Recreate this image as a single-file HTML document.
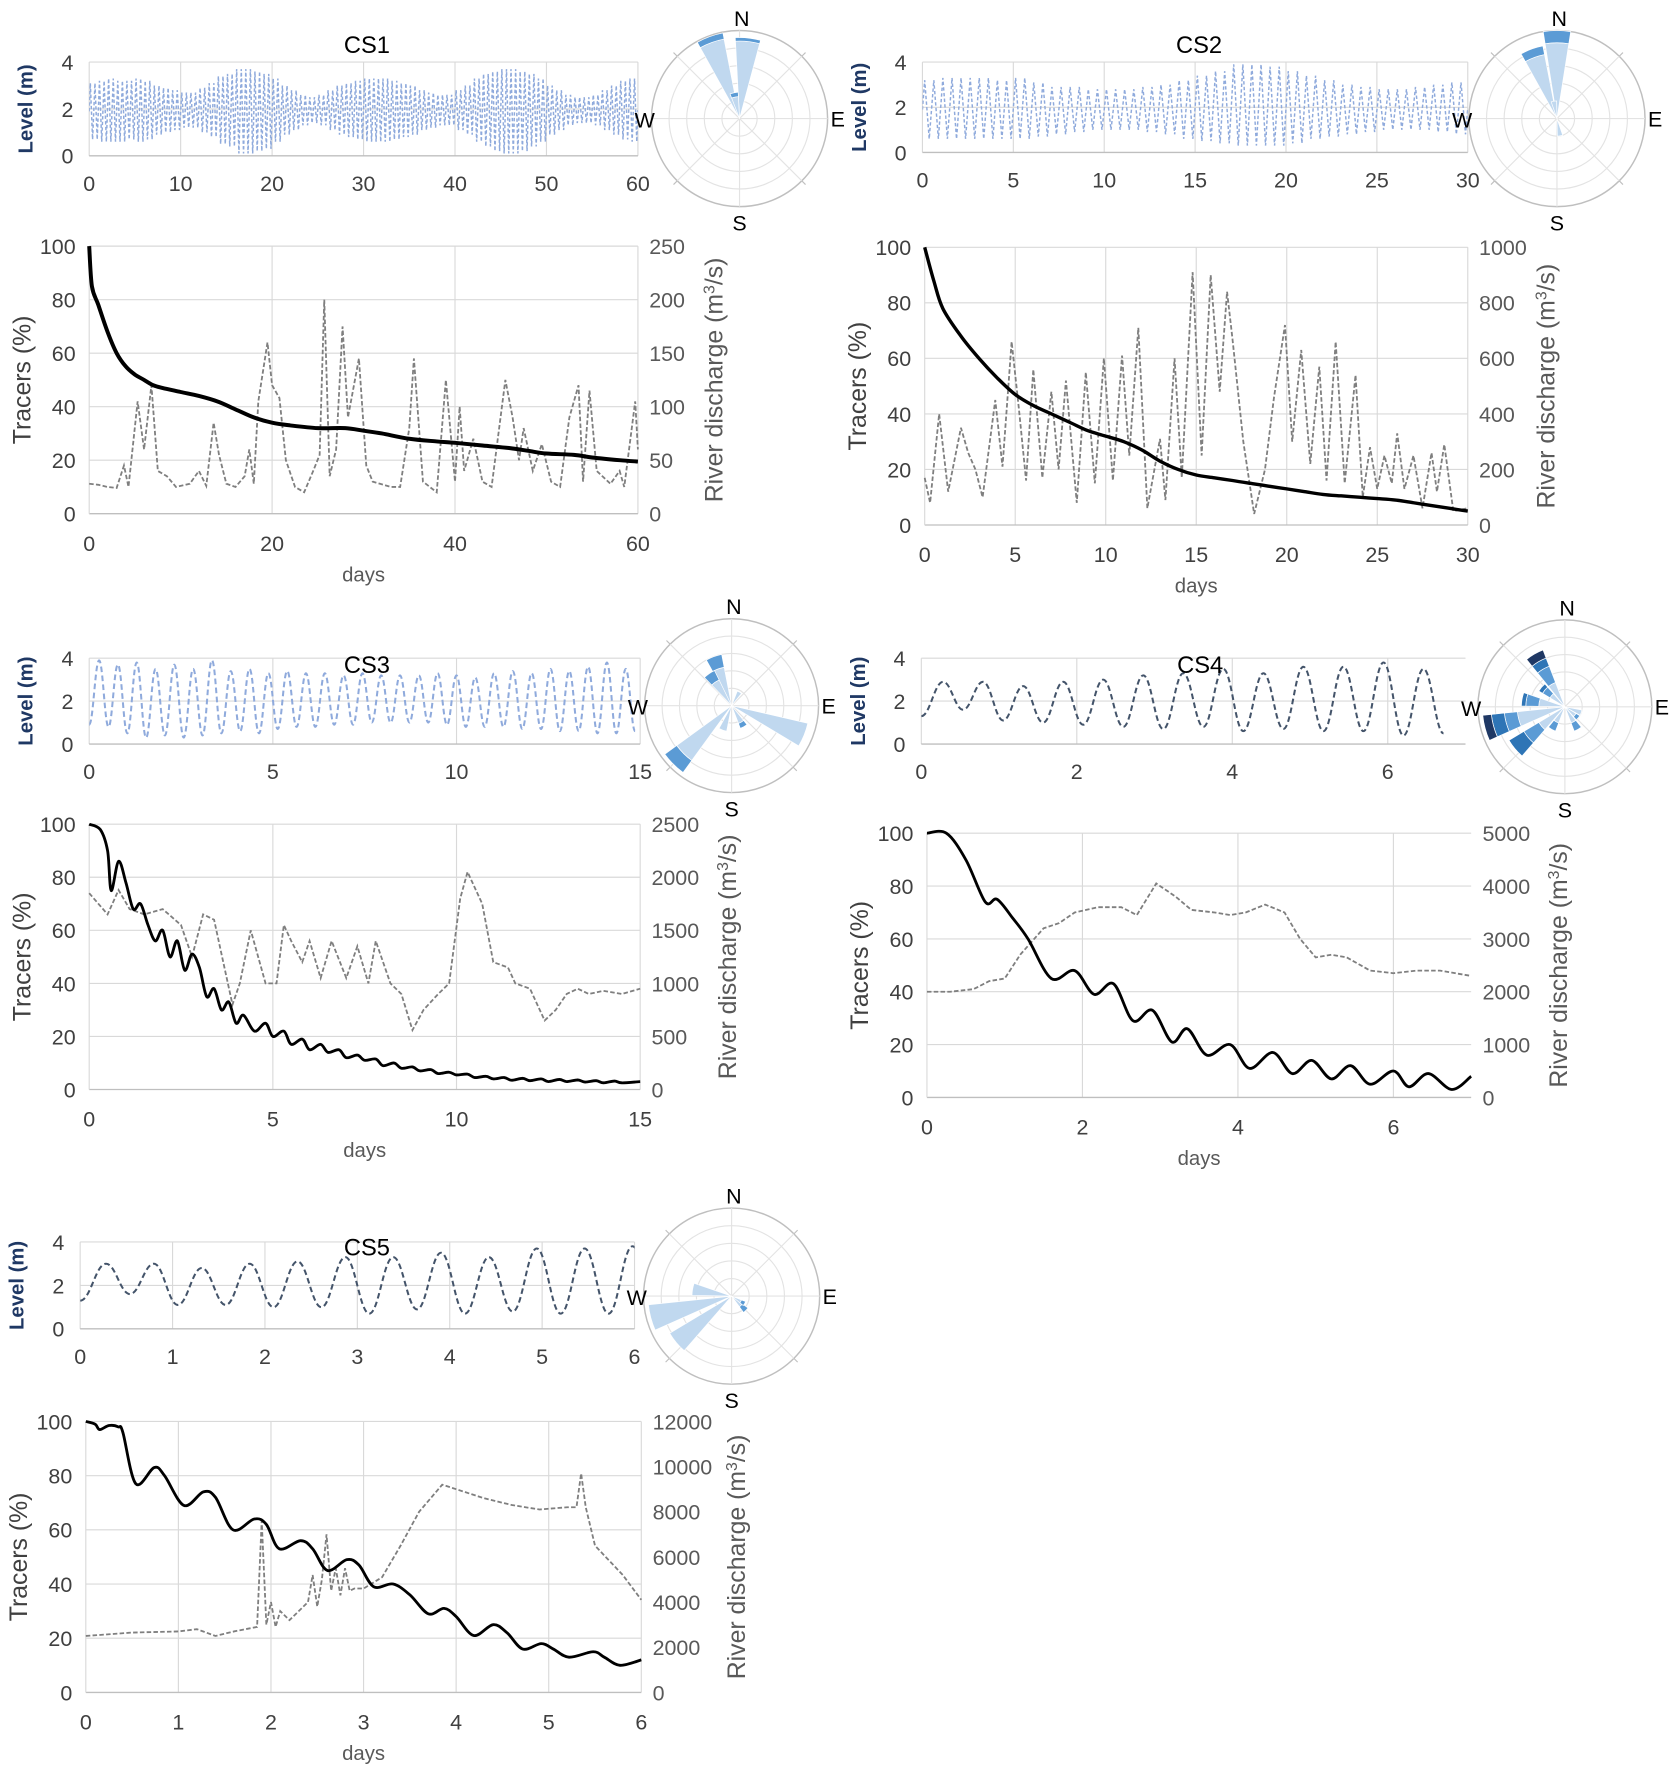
<!DOCTYPE html>
<html><head><meta charset="utf-8"><style>
html,body{margin:0;padding:0;background:#fff}
svg{display:block}
text{font-family:"Liberation Sans",Arial,sans-serif}
</style></head><body>
<svg id="fig" width="1671" height="1772" viewBox="0 0 1480 1569.5" preserveAspectRatio="none" xmlns="http://www.w3.org/2000/svg"></svg>
<script>
// ---------- DATA ----------
const cs1LevelHigh=[3.1,3.2,3.3,3.2,3.2,3.3,3.2,3.0,2.9,2.8,2.7,2.7,2.9,3.1,3.4,3.5,3.7,3.7,3.6,3.5,3.3,3.0,2.8,2.6,2.5,2.6,2.8,3.0,3.1,3.2,3.3,3.3,3.3,3.2,3.1,3.0,2.8,2.7,2.6,2.6,2.8,3.0,3.3,3.5,3.6,3.7,3.7,3.6,3.5,3.3,3.0,2.8,2.6,2.5,2.5,2.6,2.8,3.0,3.2,3.3];
const cs1LevelLow=[0.7,0.6,0.6,0.6,0.7,0.6,0.7,0.9,1.0,1.1,1.2,1.2,1.0,0.8,0.5,0.4,0.1,0.1,0.2,0.3,0.6,0.9,1.1,1.3,1.4,1.3,1.1,0.9,0.8,0.7,0.6,0.6,0.6,0.7,0.8,0.9,1.1,1.2,1.3,1.3,1.1,0.9,0.6,0.4,0.2,0.1,0.1,0.2,0.4,0.6,0.9,1.1,1.3,1.4,1.4,1.3,1.1,0.9,0.7,0.6];
const cs2LevelHigh=[3.2,3.3,3.3,3.3,3.2,3.3,3.1,2.9,2.9,2.8,2.8,2.8,2.9,3.0,3.2,3.4,3.6,3.9,3.9,3.8,3.6,3.4,3.2,3.0,2.9,2.8,2.8,2.9,3.0,3.1];
const cs2LevelLow=[0.6,0.6,0.6,0.6,0.6,0.6,0.7,0.8,0.9,1.0,1.0,1.0,0.9,0.8,0.6,0.5,0.4,0.3,0.3,0.3,0.4,0.6,0.7,0.8,0.9,1.0,1.0,1.0,0.9,0.8];
const cs3Peaks=[3.9,3.7,3.8,3.5,3.7,3.5,3.9,3.4,3.5,3.3,3.4,3.3,3.3,3.2,3.3,3.2,3.2,3.2,3.3,3.2,3.1,3.3,3.4,3.3,3.5,3.4,3.6,3.8,3.5];
const cs3Troughs=[0.8,0.5,0.3,0.4,0.3,0.4,0.5,0.6,0.5,0.7,0.8,0.8,0.9,0.9,1.0,1.0,1.0,1.0,0.9,0.8,0.8,0.8,0.7,0.7,0.6,0.6,0.5,0.5,0.6];
const cs4Peaks=[2.9,2.9,2.7,2.9,3.0,3.2,3.3,3.5,3.3,3.6,3.6,3.8,3.5];
const cs4Troughs=[1.6,1.1,1.0,0.9,0.8,0.7,0.8,0.6,0.7,0.6,0.6,0.4,0.5];
const cs5Peaks=[3.0,3.0,2.8,3.0,3.1,3.3,3.3,3.5,3.3,3.7,3.7,3.8];
const cs5Troughs=[1.6,1.1,1.1,1.0,1.0,0.7,0.9,0.7,0.8,0.7,0.7,0.9];
const cs1TracerT=[0,0.3,1,2,3,4,5,6,7,8,10,12,14,16,18,20,22,25,28,30,32,35,38,40,43,46,48,50,53,55,58,60];
const cs1TracerV=[100,85,78,68,60,55,52,50,48,47,45.5,44,42,39,36,34,33,32,32,31,30,28,27,26.5,25.5,24.5,23.5,22.5,22,21,20,19.5];
const cs1FlowT=[0,1,2,3,3.8,4.3,5.3,6,6.8,7.5,8.5,9.5,11,12,12.8,13.6,14.2,15,16,17,17.5,18,18.5,19.5,20,20.8,21.5,22.5,23.5,24.5,25.2,25.7,26.3,27,27.7,28.3,29.5,30.3,31,33,34,35,35.5,36.5,38,39,40,40.5,41,42,43,44,45.5,46.3,47,47.5,48.5,49.5,50.5,51.5,52.5,53.5,54,54.7,55.5,57,58,58.5,59.7,60];
const cs1FlowV=[28,27,25,24,45,25,105,60,120,40,35,25,28,40,26,85,55,28,25,35,60,28,105,160,120,108,50,25,20,40,55,200,35,60,175,90,145,45,30,25,25,80,145,30,20,125,30,100,40,70,30,25,125,90,50,80,40,65,30,25,90,120,30,115,40,28,40,25,105,60];
const cs2TracerT=[0,0.5,1,2,3,4,5,6,7,8,9,10,11,12,13,14,15,16,17,18,19,20,21,22,23,24,25,26,27,28,29,30];
const cs2TracerV=[100,88,78,68,60,53,47,43,40,37,34,32,30,27,23,20,18,17,16,15,14,13,12,11,10.5,10,9.5,9,8,7,6,5];
const cs2FlowT=[0,0.3,0.8,1.3,2,2.4,2.8,3.2,3.9,4.3,4.8,5.2,5.6,6,6.5,7,7.4,7.8,8.4,8.9,9.4,9.9,10.4,10.9,11.3,11.8,12.3,13,13.3,13.8,14.2,14.8,15.3,15.8,16.3,16.7,17,17.6,18.2,18.8,19.3,19.9,20.3,20.8,21.3,21.8,22.2,22.7,23.2,23.8,24.2,24.6,25,25.4,25.8,26.1,26.5,27,27.5,28,28.3,28.7,29.2,30];
const cs2FlowV=[170,80,400,120,350,260,200,100,450,210,660,420,160,560,170,480,200,520,80,550,150,600,160,610,250,710,60,310,90,600,170,910,250,900,480,840,670,300,40,200,460,720,300,630,220,570,160,660,150,540,100,280,130,250,150,330,130,250,60,260,120,290,50,60];
const cs3TracerT=[0,0.3,0.5,0.6,0.8,1,1.2,1.4,1.6,1.8,2,2.2,2.4,2.6,2.8,3,3.2,3.4,3.6,3.8,4,4.2,4.5,4.8,5,5.3,5.5,5.8,6,6.3,6.5,6.8,7,7.3,7.5,7.8,8,8.3,8.5,8.8,9,9.3,9.5,9.8,10,10.3,10.5,10.8,11,11.3,11.5,11.8,12,12.3,12.5,12.8,13,13.3,13.5,13.8,14,14.3,14.5,15];
const cs3TracerV=[100,98,90,75,86,78,68,70,62,56,60,50,56,45,51,46,35,38,30,33,25,28,22,25,20,22,17,19,15,17,14,15,12,13,11,11.5,9,10,8,8.5,7,7.5,6,6.5,5.5,5.8,4.5,5,4,4.5,3.5,4.2,3.3,4,3,3.8,3,3.6,2.8,3.3,2.5,3.2,2.5,3];
const cs3FlowT=[0,0.5,0.8,1.1,1.5,2,2.5,2.8,3.1,3.4,3.9,4.1,4.4,4.8,5.1,5.3,5.5,5.8,6,6.3,6.6,7,7.3,7.6,7.8,8.2,8.5,8.8,9.1,9.5,9.8,10.1,10.3,10.7,11,11.4,11.6,12,12.4,12.7,13,13.3,13.6,14,14.5,15];
const cs3FlowV=[1850,1650,1880,1700,1650,1700,1550,1250,1650,1600,800,1000,1500,1000,1000,1550,1400,1200,1400,1050,1400,1050,1350,1000,1400,1000,900,560,750,900,1000,1800,2050,1750,1200,1150,1000,950,650,750,900,950,900,930,900,950];
const cs4TracerT=[0,0.25,0.5,0.75,0.9,1.1,1.3,1.6,1.9,2.15,2.4,2.65,2.9,3.15,3.35,3.6,3.9,4.15,4.45,4.7,4.95,5.2,5.45,5.7,6.0,6.2,6.45,6.75,7];
const cs4TracerV=[100,100,90,74,75,68,60,45,48,39,43,29,33,21,26,16,20,11,17,9,14,7,12,5,10,4,9,3,8];
const cs4FlowT=[0,0.3,0.6,0.8,1,1.2,1.5,1.7,1.9,2.2,2.5,2.7,2.95,3.2,3.4,3.7,3.9,4.1,4.35,4.6,4.8,5,5.2,5.4,5.7,6,6.3,6.6,7];
const cs4FlowV=[2000,2000,2050,2200,2250,2700,3200,3300,3500,3600,3600,3450,4050,3800,3550,3500,3450,3500,3650,3500,3000,2650,2700,2650,2400,2350,2400,2400,2300];
const cs5TracerT=[0,0.1,0.15,0.25,0.35,0.4,0.54,0.74,0.85,1.06,1.27,1.4,1.59,1.82,1.95,2.09,2.32,2.45,2.61,2.82,2.95,3.11,3.32,3.5,3.7,3.87,4.0,4.19,4.4,4.55,4.72,4.92,5.05,5.22,5.48,5.6,5.77,6];
const cs5TracerV=[100,99,97,98.5,98,96,77,83,80,69,74,72,60,64,62,53,56,53,45,49,47,39,40,36,29,31,28,21,25,22,16,18,16,13,15,13,10,12];
const cs5FlowT=[0,0.5,1,1.2,1.4,1.6,1.85,1.9,1.95,2,2.05,2.1,2.2,2.4,2.45,2.5,2.55,2.6,2.65,2.7,2.75,2.8,2.85,2.9,3,3.2,3.4,3.6,3.85,4,4.3,4.6,4.9,5.2,5.3,5.35,5.4,5.5,5.8,6];
const cs5FlowV=[2500,2650,2700,2800,2500,2700,2900,7600,3000,4000,2900,3600,3200,4000,5200,3800,5000,7000,4500,5500,4300,5500,4500,4600,4600,5100,6500,8000,9200,9000,8600,8300,8100,8200,8200,9700,8200,6500,5200,4100];
const cs1RoseDirs=[-20,6,-12];
const cs1RoseBins=[[0.92,0.07],[0.88,0.04],[0.25,0.05]];
const cs2RoseDirs=[0,-20,-10,170];
const cs2RoseBins=[[0.86,0.14],[0.74,0.1],[0.2],[0.2]];
const cs3RoseDirs=[-20,-35,225,112,150,200,30];
const cs3RoseBins=[[0.45,0.15],[0.33,0.12],[0.78,0.17],[0.9],[0.22,0.06],[0.3],[0.18]];
const cs4RoseDirs=[-30,-50,-80,-105,-130,-150,150,130,110];
const cs4RoseBins=[[0.3,0.2,0.1,0.1],[0.2,0.1,0.05],[0.3,0.15,0.05],[0.55,0.15,0.15,0.1],[0.35,0.2,0.2],[0.2,0.1],[0.2,0.1],[0.15,0.05],[0.2]];
const cs5RoseDirs=[-80,-105,-130,135,120];
const cs5RoseBins=[[0.45],[0.95],[0.82],[0.15,0.08],[0.12,0.05]];

// ---------- DRAWING ----------
const NS='http://www.w3.org/2000/svg';
const svg=document.getElementById('fig');
function mk(tag,attrs,parent){const e=document.createElementNS(NS,tag);for(const k in attrs)e.setAttribute(k,attrs[k]);(parent||svg).appendChild(e);return e;}
function txt(x,y,s,size,fill,anchor,parent,rot){const t=mk('text',{x:x,y:y,'font-size':size,fill:fill,'text-anchor':anchor||'middle'},parent);if(rot)t.setAttribute('transform','rotate(-90 '+x+' '+y+')');t.textContent=s;return t;}
const ROSECOL=['#c0d8ef','#5b9bd5','#2e75b6','#1f3864'];

function levelPoints(opt){
  const pts=[];
  if(opt.daily){
    const hi=opt.hi,lo=opt.lo;
    pts.push([0,(hi[0]+lo[0])/2]);
    for(let d=0;d<hi.length;d++){for(let k=0;k<2;k++){const t0=d+k*0.5;pts.push([t0+0.125,hi[d]]);pts.push([t0+0.375,lo[d]]);}}
    pts.push([hi.length,(hi[hi.length-1]+lo[lo.length-1])/2]);
  } else {
    pts.push([0,opt.start]);
    for(let i=0;i<opt.peaks.length;i++){pts.push([opt.first+i*opt.period,opt.peaks[i]]);if(i<opt.troughs.length)pts.push([opt.first+(i+0.5)*opt.period,opt.troughs[i]]);}
  }
  return pts;
}
function smoothPath(pts,sx,sy){
  let d='M'+sx(pts[0][0]).toFixed(1)+','+sy(pts[0][1]).toFixed(1);
  for(let i=0;i<pts.length-1;i++){
    const x0=sx(pts[i][0]),x1=sx(pts[i+1][0]),y0=sy(pts[i][1]),y1=sy(pts[i+1][1]);
    const cx=(x1-x0)*0.4;
    d+=' C'+(x0+cx).toFixed(1)+','+y0.toFixed(1)+' '+(x1-cx).toFixed(1)+','+y1.toFixed(1)+' '+x1.toFixed(1)+','+y1.toFixed(1);
  }
  return d;
}
function crPath(ts,vs,sx,sy){
  const P=ts.map((t,i)=>[sx(t),sy(vs[i])]);
  let d='M'+P[0][0].toFixed(1)+','+P[0][1].toFixed(1);
  for(let i=0;i<P.length-1;i++){
    const p0=P[Math.max(0,i-1)],p1=P[i],p2=P[i+1],p3=P[Math.min(P.length-1,i+2)];
    const c1=[p1[0]+(p2[0]-p0[0])/6,p1[1]+(p2[1]-p0[1])/6],c2=[p2[0]-(p3[0]-p1[0])/6,p2[1]-(p3[1]-p1[1])/6];
    d+=' C'+c1[0].toFixed(1)+','+c1[1].toFixed(1)+' '+c2[0].toFixed(1)+','+c2[1].toFixed(1)+' '+p2[0].toFixed(1)+','+p2[1].toFixed(1);
  }
  return d;
}
function linePath(ts,vs,sx,sy){return ts.map((t,i)=>(i?'L':'M')+sx(t).toFixed(1)+','+sy(vs[i]).toFixed(1)).join(' ');}

function panel(P){
  const g=mk('g',{});
  
  
  const L=P.level;
  const lx=t=>L.x0+(L.x1-L.x0)*t/P.xmax;
  const ly=v=>L.yb+(L.yt-L.yb)*v/4;
  const lg=mk('g',{},g);
  
  
  for(let t=0;t<=P.xmax+1e-9;t+=L.step){mk('line',{x1:lx(t),x2:lx(t),y1:L.yt,y2:L.yb,stroke:'#d9d9d9','stroke-width':1},lg);}
  [2,4].forEach(v=>mk('line',{x1:L.x0,x2:L.x1,y1:ly(v),y2:ly(v),stroke:'#d9d9d9','stroke-width':1},lg));
  mk('line',{x1:L.x0,x2:L.x1,y1:L.yb,y2:L.yb,stroke:'#bfbfbf','stroke-width':1.2},lg);
  [0,2,4].forEach(v=>{const t=txt(L.x0-14,ly(v)+7,String(v),19,'#404040','end',lg);});
  for(let t=0;t<=P.xmax+1e-9;t+=L.step){const e=txt(lx(t),L.yb+31,String(t),19,'#404040','middle',lg);}
  const yt=txt(L.x0-50,(L.yt+L.yb)/2,'Level (m)',18,'#1f3864','middle',lg,true);
  yt.setAttribute('font-weight','bold');
  
  const clipId=P.id+'clip';
  const cp=mk('clipPath',{id:clipId},lg);mk('rect',{x:L.x0,y:L.yt-10,width:L.x1-L.x0,height:L.yb-L.yt+10},cp);
  const pts=levelPoints(P.levelData);
  const lp=mk('path',{d:P.levelData.daily?linePath(pts.map(p=>p[0]),pts.map(p=>p[1]),lx,ly):smoothPath(pts,lx,ly),fill:'none',stroke:P.levelColor,'stroke-width':P.levelData.daily?1.3:1.8,'stroke-dasharray':P.levelData.daily?'3 2':'5 3','clip-path':'url(#'+clipId+')'},lg);
  
  
  const ti=txt(P.title[0],P.title[1],P.id.toUpperCase(),21,'#000','middle',g);
  
  const R=P.rose;
  const rg=mk('g',{},g);
  
  
  mk('circle',{cx:R.cx,cy:R.cy,r:R.r,fill:'#fff',stroke:'#bfbfbf','stroke-width':1.3},rg);
  [0.2,0.4,0.6,0.8].forEach(f=>mk('circle',{cx:R.cx,cy:R.cy,r:R.r*f,fill:'none',stroke:'#e3e3e3','stroke-width':1},rg));
  for(let a=0;a<180;a+=45){const r=a*Math.PI/180;mk('line',{x1:R.cx-R.r*Math.sin(r),y1:R.cy+R.r*Math.cos(r),x2:R.cx+R.r*Math.sin(r),y2:R.cy-R.r*Math.cos(r),stroke:'#e3e3e3','stroke-width':1},rg);}
  for(let a=45;a<360;a+=90){const r=a*Math.PI/180;mk('line',{x1:R.cx+R.r*1.0*Math.sin(r),y1:R.cy-R.r*1.0*Math.cos(r),x2:R.cx+R.r*1.06*Math.sin(r),y2:R.cy-R.r*1.06*Math.cos(r),stroke:'#bfbfbf','stroke-width':1},rg);}
  P.roseDirs.forEach((dir,i)=>{
    let r0=0;
    P.roseBins[i].forEach((len,k)=>{
      const r1=r0+len;const a0=(dir-9)*Math.PI/180,a1=(dir+9)*Math.PI/180;
      const p=(rr,a)=>(R.cx+R.r*rr*Math.sin(a)).toFixed(1)+','+(R.cy-R.r*rr*Math.cos(a)).toFixed(1);
      const d='M'+p(r0,a0)+' L'+p(r1,a0)+' A'+(R.r*r1)+','+(R.r*r1)+' 0 0 1 '+p(r1,a1)+' L'+p(r0,a1)+(r0>0?' A'+(R.r*r0)+','+(R.r*r0)+' 0 0 0 '+p(r0,a0):'')+' Z';
      const w=mk('path',{d:d,fill:ROSECOL[k],stroke:'#fff','stroke-width':0.6},rg);
      
      
      r0=r1;
    });
  });
  txt(R.cx+2,R.cy-R.r-4,'N',19,'#000','middle',rg);
  txt(R.cx,R.cy+R.r+21,'S',19,'#000','middle',rg);
  txt(R.cx-R.r-6,R.cy+8,'W',19,'#000','middle',rg);
  txt(R.cx+R.r+9,R.cy+7,'E',19,'#000','middle',rg);
  const T=P.tracer;
  const tx=t=>T.x0+(T.x1-T.x0)*t/P.xmax;
  const ty=v=>T.yb+(T.yt-T.yb)*v/100;
  const qy=v=>T.yb+(T.yt-T.yb)*v/T.rmax;
  const tg=mk('g',{},g);
  
  
  for(let v=20;v<=100;v+=20)mk('line',{x1:T.x0,x2:T.x1,y1:ty(v),y2:ty(v),stroke:'#d9d9d9','stroke-width':1},tg);
  for(let t=T.step;t<=P.xmax+1e-9;t+=T.step)mk('line',{x1:tx(t),x2:tx(t),y1:T.yt,y2:T.yb,stroke:'#d9d9d9','stroke-width':1},tg);
  mk('line',{x1:T.x0,x2:T.x1,y1:T.yb,y2:T.yb,stroke:'#bfbfbf','stroke-width':1.2},tg);
  mk('line',{x1:T.x0,x2:T.x0,y1:T.yt,y2:T.yb,stroke:'#d9d9d9','stroke-width':1},tg);
  for(let v=0;v<=100;v+=20){const e=txt(T.x0-12,ty(v)+7,String(v),19,'#404040','end',tg);}
  for(let v=0;v<=T.rmax;v+=T.rstep){const e=txt(T.x1+10,qy(v)+7,String(v),19,'#595959','start',tg);}
  for(let t=0;t<=P.xmax+1e-9;t+=T.xlab){const e=txt(tx(t),T.yb+33,String(t),19,'#404040','middle',tg);}
  const dl=txt((T.x0+T.x1)/2,T.yb+60,'days',18,'#595959','middle',tg);
  
  const tt=txt(T.x0-52,(T.yt+T.yb)/2,'Tracers (%)',22,'#404040','middle',tg,true);
  
  const rt=mk('text',{x:T.x1+T.rtx,y:(T.yt+T.yb)/2,'font-size':22,fill:'#595959','text-anchor':'middle',transform:'rotate(-90 '+(T.x1+T.rtx)+' '+((T.yt+T.yb)/2)+')'},tg);
  rt.innerHTML='River discharge (m<tspan baseline-shift="super" font-size="14">3</tspan>/s)';
  
  const fl=mk('path',{d:linePath(P.flowT,P.flowV,tx,qy),fill:'none',stroke:'#7f7f7f','stroke-width':1.6,'stroke-dasharray':'4 2'},tg);
  
  const tr=mk('path',{d:crPath(P.trT,P.trV,tx,ty),fill:'none',stroke:'#000','stroke-width':P.trW,'stroke-linejoin':'round'},tg);
  
}

const LC='#8faadc',DC='#44546a';
panel({id:'cs1',xmax:60,title:[325,47],levelColor:LC,
 level:{x0:79,x1:565,yt:55,yb:138,step:10},levelData:{daily:true,hi:cs1LevelHigh,lo:cs1LevelLow},
 rose:{cx:655,cy:105,r:78},roseDirs:cs1RoseDirs,roseBins:cs1RoseBins,
 tracer:{x0:79,x1:565,yt:218,yb:455,step:20,xlab:20,rmax:250,rstep:50,rtx:75},
 trT:cs1TracerT,trV:cs1TracerV,flowT:cs1FlowT,flowV:cs1FlowV,trW:3.5});
panel({id:'cs2',xmax:30,title:[1062,47],levelColor:LC,
 level:{x0:817,x1:1300,yt:55,yb:135,step:5},levelData:{daily:true,hi:cs2LevelHigh,lo:cs2LevelLow},
 rose:{cx:1379,cy:105,r:78},roseDirs:cs2RoseDirs,roseBins:cs2RoseBins,
 tracer:{x0:819,x1:1300,yt:219,yb:465,step:5,xlab:5,rmax:1000,rstep:200,rtx:77},
 trT:cs2TracerT,trV:cs2TracerV,flowT:cs2FlowT,flowV:cs2FlowV,trW:3});
panel({id:'cs3',xmax:15,title:[325,596],levelColor:LC,
 level:{x0:79,x1:567,yt:583,yb:659,step:5},levelData:{daily:false,start:0.9,first:0.27,period:0.512,peaks:cs3Peaks,troughs:cs3Troughs},
 rose:{cx:648,cy:625,r:77},roseDirs:cs3RoseDirs,roseBins:cs3RoseBins,
 tracer:{x0:79,x1:567,yt:730,yb:965,step:5,xlab:5,rmax:2500,rstep:500,rtx:85},
 trT:cs3TracerT,trV:cs3TracerV,flowT:cs3FlowT,flowV:cs3FlowV,trW:2.5});
panel({id:'cs4',xmax:7,title:[1063,596],levelColor:DC,
 level:{x0:816,x1:1298,yt:583,yb:659,step:2},levelData:{daily:false,start:1.3,first:0.28,period:0.515,peaks:cs4Peaks,troughs:cs4Troughs},
 rose:{cx:1386,cy:626,r:77},roseDirs:cs4RoseDirs,roseBins:cs4RoseBins,
 tracer:{x0:821,x1:1303,yt:738,yb:972,step:2,xlab:2,rmax:5000,rstep:1000,rtx:85},
 trT:cs4TracerT,trV:cs4TracerV,flowT:cs4FlowT,flowV:cs4FlowV,trW:2.5});
panel({id:'cs5',xmax:6,title:[325,1112],levelColor:DC,
 level:{x0:71,x1:562,yt:1100,yb:1177,step:1},levelData:{daily:false,start:1.3,first:0.28,period:0.518,peaks:cs5Peaks,troughs:cs5Troughs},
 rose:{cx:648,cy:1148,r:78},roseDirs:cs5RoseDirs,roseBins:cs5RoseBins,
 tracer:{x0:76,x1:568,yt:1259,yb:1499,step:1,xlab:1,rmax:12000,rstep:2000,rtx:92},
 trT:cs5TracerT,trV:cs5TracerV,flowT:cs5FlowT,flowV:cs5FlowV,trW:2.5});
</script>
</body></html>
